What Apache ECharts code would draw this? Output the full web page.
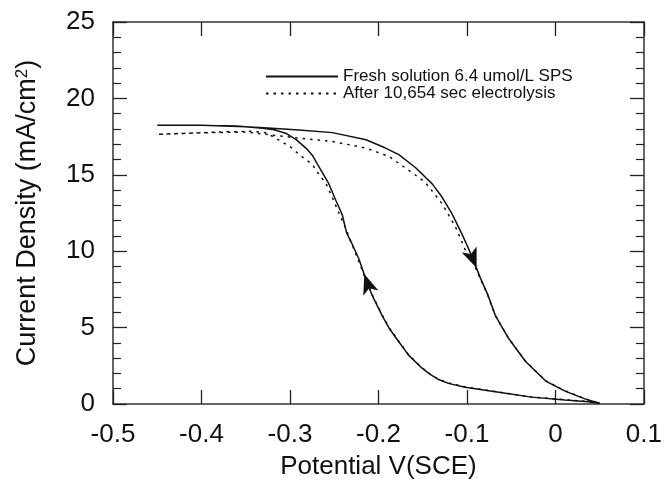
<!DOCTYPE html>
<html>
<head>
<meta charset="utf-8">
<script src="https://cdn.jsdelivr.net/npm/echarts@6/dist/echarts.min.js"></script>
<style>
  html, body { margin: 0; padding: 0; background: #fff; }
  #main { width: 665px; height: 485px; }
</style>
</head>
<body>
<div id="main"></div>
<script>
// fresh solution loop: starts at +0.05 V, scans negative, then back
const freshV = [0.050, 0.037, 0.011, -0.027, -0.064, -0.102, -0.121, -0.132, -0.142, -0.151,
    -0.166, -0.177, -0.188, -0.196, -0.207, -0.215, -0.222, -0.230, -0.236, -0.241,
    -0.248, -0.256, -0.267, -0.275, -0.282, -0.293, -0.304, -0.318, -0.331, -0.360,
    -0.400, -0.450,
    -0.400, -0.350, -0.320, -0.290, -0.252, -0.214, -0.192, -0.177, -0.158, -0.139,
    -0.128, -0.117, -0.106, -0.096, -0.085, -0.076, -0.068, -0.053, -0.034, -0.011,
    0.011, 0.034, 0.050];
const freshI = [0.05, 0.15, 0.26, 0.45, 0.77, 1.10, 1.35, 1.60, 1.95, 2.36,
    3.20, 4.07, 4.96, 5.80, 7.09, 8.30, 9.47, 10.5, 11.2, 12.4,
    13.3, 14.4, 15.5, 16.3, 16.75, 17.3, 17.7, 17.95, 18.05, 18.2,
    18.25, 18.25,
    18.25, 18.15, 18.05, 17.93, 17.76, 17.29, 16.75, 16.32, 15.46, 14.39,
    13.53, 12.46, 11.17, 9.88, 8.27, 7.09, 5.8, 4.3, 2.8, 1.5,
    0.84, 0.32, 0.05];

// after 10,654 s electrolysis
const afterV = [0.050, 0.037, 0.011, -0.027, -0.064, -0.102, -0.121, -0.132, -0.142, -0.151,
    -0.166, -0.177, -0.188, -0.196, -0.207, -0.216, -0.224, -0.231, -0.237, -0.244,
    -0.252, -0.259, -0.267, -0.275, -0.289, -0.300, -0.312, -0.327, -0.345, -0.380,
    -0.420, -0.450,
    -0.400, -0.350, -0.320, -0.290, -0.252, -0.214, -0.188, -0.162, -0.147, -0.128,
    -0.113, -0.102, -0.094, -0.085, -0.076, -0.068, -0.053, -0.034, -0.011, 0.011,
    0.034, 0.050];
const afterI = [0.05, 0.16, 0.28, 0.46, 0.78, 1.12, 1.38, 1.62, 1.97, 2.38,
    3.22, 4.1, 5.0, 5.85, 7.15, 8.4, 9.6, 10.6, 11.5, 12.4,
    13.5, 14.4, 15.0, 15.7, 16.3, 16.85, 17.25, 17.75, 17.85, 17.8,
    17.7, 17.65,
    17.75, 17.8, 17.6, 17.4, 17.18, 16.75, 16.2, 15.14, 14.5, 13.1,
    11.6, 10.1, 9.4, 8.2, 7.05, 5.8, 4.3, 2.82, 1.52, 0.86,
    0.33, 0.05];

// scan direction arrows: [V, I, rotation]
const arrows = [[-0.089, 8.9, 202], [-0.216, 8.5, 19]];

const seriesNames = ['Fresh solution 6.4 umol/L SPS', 'After 10,654 sec electrolysis'];

const font = "'Liberation Sans', Arial, Helvetica, sans-serif";
const ink = '#111';

const chart = echarts.init(document.getElementById('main'));

const tickStyle = { show: true, inside: true, length: 14, lineStyle: { color: '#222', width: 1.3 } };
const minorStyle = { show: true, splitNumber: 5, length: 8, lineStyle: { color: '#222', width: 1.2 } };
const lineAxis = { show: true, onZero: false, lineStyle: { color: '#333', width: 1.5 } };

const option = {
    animation: false,
    backgroundColor: '#fff',
    grid: { left: 113, right: 19, top: 22, bottom: 75 },
    legend: {
        orient: 'vertical',
        left: 260,
        top: 63,
        itemWidth: 72,
        itemHeight: 14,
        itemGap: 0,
        data: seriesNames,
        itemStyle: { opacity: 0 },
        textStyle: { fontFamily: font, fontSize: 17, color: ink }
    },
    xAxis: [{
        type: 'value',
        min: -0.5, max: 0.1, interval: 0.1,
        name: 'Potential V(SCE)',
        nameLocation: 'middle',
        nameGap: 50,
        nameTextStyle: { fontFamily: font, fontSize: 26, color: ink },
        axisLine: lineAxis,
        axisTick: tickStyle,
        axisLabel: { margin: 18, fontFamily: font, fontSize: 26, color: ink },
        splitLine: { show: false }
    }, {
        type: 'value',
        position: 'top',
        min: -0.5, max: 0.1, interval: 0.1,
        axisLine: lineAxis,
        axisTick: tickStyle,
        axisLabel: { show: false },
        splitLine: { show: false }
    }],
    yAxis: [{
        type: 'value',
        min: 0, max: 25, interval: 5,
        name: 'Current Density (mA/cm{sup|2})',
        nameLocation: 'middle',
        nameGap: 72,
        nameTextStyle: {
            fontFamily: font, fontSize: 27, color: ink,
            rich: { sup: { fontFamily: font, fontSize: 17, color: ink, verticalAlign: 'top', padding: [0, 0, 10, 0] } }
        },
        axisLine: lineAxis,
        axisTick: tickStyle,
        minorTick: minorStyle,
        axisLabel: { margin: 18, fontFamily: font, fontSize: 26, color: ink },
        splitLine: { show: false }
    }, {
        type: 'value',
        position: 'right',
        min: 0, max: 25, interval: 5,
        axisLine: lineAxis,
        axisTick: tickStyle,
        minorTick: minorStyle,
        axisLabel: { show: false },
        splitLine: { show: false }
    }],
    series: [{
        name: seriesNames[0],
        type: 'line',
        symbol: 'none',
        color: ink,
        lineStyle: { color: ink, width: 1.5 },
        data: freshV.map((v, i) => [v, freshI[i]]),
        markPoint: {
            symbol: 'arrow',
            symbolSize: [12, 20],
            itemStyle: { color: ink },
            label: { show: false },
            data: arrows.map(a => ({ coord: [a[0], a[1]], symbolRotate: a[2] }))
        }
    }, {
        name: seriesNames[1],
        type: 'line',
        symbol: 'none',
        color: ink,
        lineStyle: { color: ink, width: 1.5, type: [2.5, 5] },
        data: afterV.map((v, i) => [v, afterI[i]])
    }]
};

chart.setOption(option);
</script>
</body>
</html>
